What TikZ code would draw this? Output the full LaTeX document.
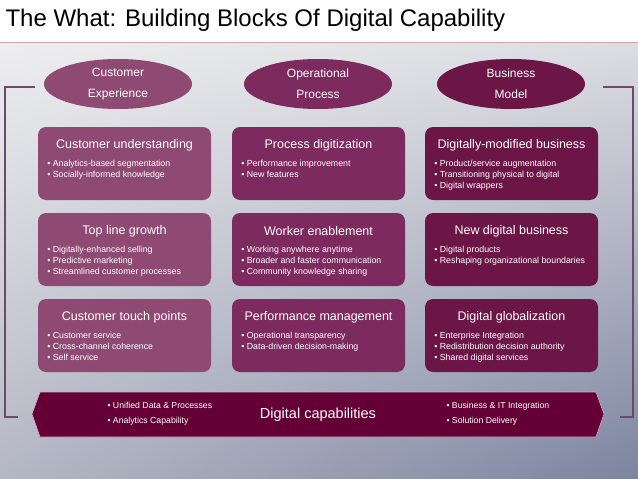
\documentclass[tikz,border=0pt]{standalone}
\usepackage{fontspec}
\setmainfont{Liberation Sans}
\usetikzlibrary{shapes.geometric,shadings}
\definecolor{cA}{HTML}{8E4A72}
\definecolor{cB}{HTML}{7D2A5E}
\definecolor{cC}{HTML}{6C1648}
\definecolor{band}{HTML}{640036}
\definecolor{brk}{HTML}{6E4A68}
\definecolor{bgA}{HTML}{EEEEF0}
\definecolor{bgB}{HTML}{DCDDE2}
\definecolor{bgC}{HTML}{B4B7C4}
\definecolor{bgD}{HTML}{7C84A0}
\newcommand{\bx}[3]{%
  \node[btitle] at ([yshift=-18pt]#1.north) {#2};
  \node[blist] at ([xshift=6pt,yshift=-30pt]#1.north west) {#3};}
\begin{document}
\begin{tikzpicture}[x=1pt,y=-1pt,
  box/.style={rounded corners=8pt,minimum width=173pt,minimum height=73pt,inner sep=0pt},
  ell/.style={ellipse,minimum width=148pt,minimum height=50pt,inner sep=0pt,text=white,align=center,font=\fontsize{12}{21}\selectfont},
  btitle/.style={text=white,font=\fontsize{12.5}{14}\selectfont},
  blist/.style={text=white,anchor=north west,align=left,font=\fontsize{8.8}{10.8}\selectfont},
  brkline/.style={draw=brk,line width=1.5pt}]
\useasboundingbox (0,0) rectangle (638,479);
\fill[white] (0,0) rectangle (638,42);
\shade[upper left=bgA,upper right=bgB,lower left=bgC,lower right=bgD] (0,43) rectangle (638,479);
\draw[draw=pink!60!gray,line width=0.8pt] (0,42) -- (638,42);
\node[anchor=west,font=\fontsize{24}{26}\selectfont] (title) at (2,20) {The What: Building Blocks Of Digital Capability};
% brackets
\coordinate (l1) at (35,87); \coordinate (l2) at (5,87); \coordinate (l3) at (5,417); \coordinate (l4) at (18,417);
\coordinate (r1) at (603,87); \coordinate (r2) at (633,87); \coordinate (r3) at (633,417); \coordinate (r4) at (620,417);
\draw[brkline] (l1) -- (l2) -- (l3) -- (l4);
\draw[brkline] (r1) -- (r2) -- (r3) -- (r4);
% ellipses
\node[ell,fill=cA] (e1) at (118,84) {Customer\\Experience};
\node[ell,fill=cB] (e2) at (318,84) {Operational\\Process};
\node[ell,fill=cC] (e3) at (511,84) {Business\\Model};
% grid
\foreach \c/\x/\col in {1/124.5/cA,2/318.5/cB,3/511.5/cC}{
  \foreach \r/\y in {1/163.5,2/249.5,3/335.5}{
    \node[box,fill=\col] (b\c\r) at (\x,\y) {};
  }
}
\bx{b11}{Customer understanding}{• Analytics-based segmentation\\• Socially-informed knowledge}
\bx{b12}{Top line growth}{• Digitally-enhanced selling\\• Predictive marketing\\• Streamlined customer processes}
\bx{b13}{Customer touch points}{• Customer service\\• Cross-channel coherence\\• Self service}
\bx{b21}{Process digitization}{• Performance improvement\\• New features}
\bx{b22}{Worker enablement}{• Working anywhere anytime\\• Broader and faster communication\\• Community knowledge sharing}
\bx{b23}{Performance management}{• Operational transparency\\• Data-driven decision-making}
\bx{b31}{Digitally-modified business}{• Product/service augmentation\\• Transitioning physical to digital\\• Digital wrappers}
\bx{b32}{New digital business}{• Digital products\\• Reshaping organizational boundaries}
\bx{b33}{Digital globalization}{• Enterprise Integration\\• Redistribution decision authority\\• Shared digital services}
% band
\fill[band,draw=white!70!band,line width=0.6pt] (40,392) -- (596,392) -- (604,414) -- (596,437) -- (40,437) -- (32,414) -- cycle;
\node[text=white,font=\fontsize{14.5}{16}\selectfont] (dc) at (318,415) {Digital capabilities};
\node[blist,anchor=west,font=\fontsize{8.7}{15}\selectfont] (dl) at (104,414) {• Unified Data \& Processes\\• Analytics Capability};
\node[blist,anchor=west,font=\fontsize{8.7}{15}\selectfont] (dr) at (443,414) {• Business \& IT Integration\\• Solution Delivery};
\end{tikzpicture}
\end{document}
